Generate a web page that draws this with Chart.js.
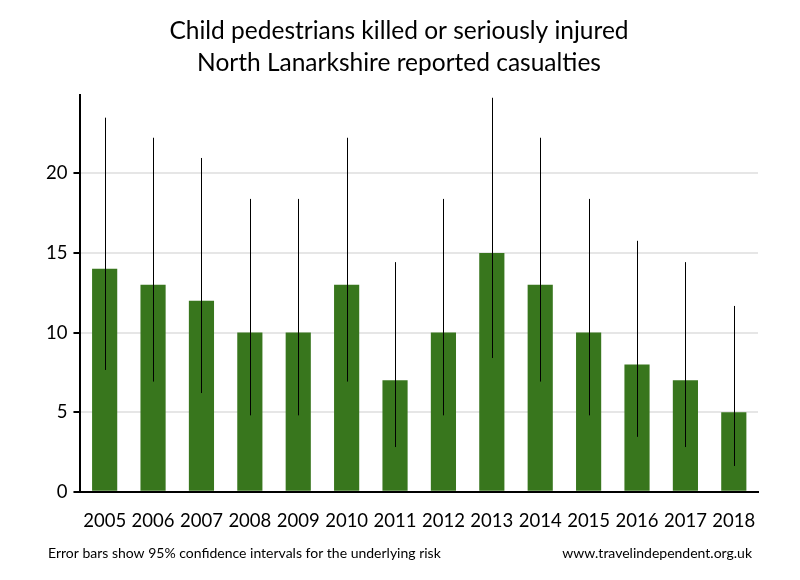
<!DOCTYPE html>
<html>
<head>
<meta charset="utf-8">
<script src="https://cdn.jsdelivr.net/npm/chart.js@4"></script>
<style>
  html, body { margin: 0; padding: 0; background: #fff; }
  #wrap { width: 800px; height: 580px; }
</style>
</head>
<body>
<div id="wrap"><canvas id="casualtyChart" width="800" height="580"></canvas></div>
<script>
const years = ['2005', '2006', '2007', '2008', '2009', '2010', '2011', '2012', '2013', '2014', '2015', '2016', '2017', '2018'];
const casualties = [14, 13, 12, 10, 10, 13, 7, 10, 15, 13, 10, 8, 7, 5];
const ciLower = [7.65, 6.92, 6.2, 4.8, 4.8, 6.92, 2.81, 4.8, 8.4, 6.92, 4.8, 3.45, 2.81, 1.62];
const ciUpper = [23.49, 22.23, 20.96, 18.39, 18.39, 22.23, 14.42, 18.39, 24.74, 22.23, 18.39, 15.76, 14.42, 11.67];
const yTicks = [0, 5, 10, 15, 20];

const FONT = 'Lato, "Open Sans", sans-serif';

// thin black whiskers through each bar, placed with the chart's own scales
const errorBars = {
  id: 'errorBars',
  afterDatasetsDraw(chart) {
    const ctx = chart.ctx;
    const x = chart.scales.x;
    const y = chart.scales.y;
    ctx.save();
    ctx.strokeStyle = '#000';
    ctx.lineWidth = 1;
    years.forEach((yr, i) => {
      const px = Math.round(x.getPixelForValue(i)) + 0.5;
      ctx.beginPath();
      ctx.moveTo(px, y.getPixelForValue(ciLower[i]));
      ctx.lineTo(px, y.getPixelForValue(ciUpper[i]));
      ctx.stroke();
    });
    ctx.restore();
  }
};

const footnotes = {
  id: 'footnotes',
  afterDraw(chart) {
    const ctx = chart.ctx;
    ctx.save();
    ctx.fillStyle = '#000';
    ctx.font = '14px ' + FONT;
    ctx.textBaseline = 'middle';
    ctx.textAlign = 'left';
    ctx.fillText('Error bars show 95% confidence intervals for the underlying risk', 48, 553);
    ctx.textAlign = 'right';
    ctx.fillText('www.travelindependent.org.uk', 752, 553);
    ctx.restore();
  }
};

new Chart(document.getElementById('casualtyChart'), {
  type: 'bar',
  data: {
    labels: years,
    datasets: [{
      data: casualties,
      backgroundColor: '#38761d',
      borderWidth: 0,
      barPercentage: 0.52,
      categoryPercentage: 1.0
    }]
  },
  options: {
    responsive: false,
    animation: false,
    layout: { padding: { left: 40, right: 42, top: 12, bottom: 30 } },
    plugins: {
      legend: { display: false },
      tooltip: { enabled: false },
      title: {
        display: true,
        text: ['Child pedestrians killed or seriously injured', 'North Lanarkshire reported casualties'],
        color: '#000',
        font: { family: FONT, size: 24.5, weight: 'normal', lineHeight: 1.27 },
        padding: { top: 4, bottom: 17 }
      }
    },
    scales: {
      x: {
        grid: { display: false, drawTicks: false },
        border: { color: '#000', width: 2 },
        ticks: { color: '#000', font: { family: FONT, size: 18.5 }, padding: 18, maxRotation: 0, autoSkip: false }
      },
      y: {
        min: 0,
        max: 24.9,
        afterBuildTicks(scale) {
          scale.ticks = yTicks.map(v => ({ value: v }));
        },
        grid: {
          color: ctx => (ctx.tick && ctx.tick.value === 0 ? 'rgba(0,0,0,0)' : '#e6e6e6'),
          lineWidth: 2,
          tickColor: '#000',
          tickLength: 7,
          tickWidth: 2
        },
        border: { color: '#000', width: 2 },
        ticks: { color: '#000', font: { family: FONT, size: 18.5 }, padding: 6, includeBounds: false }
      }
    }
  },
  plugins: [errorBars, footnotes]
});
</script>
</body>
</html>
